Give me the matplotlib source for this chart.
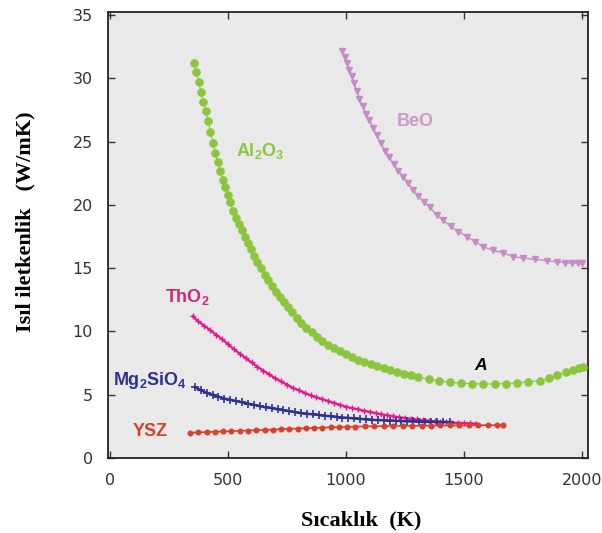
import matplotlib
matplotlib.use("Agg")
import matplotlib.pyplot as plt

plt.rcParams['mathtext.fontset'] = 'custom'
plt.rcParams['mathtext.rm'] = 'Liberation Sans:bold'
plt.rcParams['mathtext.bf'] = 'Liberation Sans:bold'
plt.rcParams['mathtext.it'] = 'Liberation Sans:bold'

# ---- data ----
al2o3_T = [356, 366, 376, 386, 396, 406, 416, 426, 436, 446, 456, 466, 477, 488, 499, 510,
           522, 534, 546, 558, 571, 584, 597, 611, 625, 640, 655, 670, 686, 702, 719, 736,
           754, 772, 791, 811, 832, 854, 877, 900, 924, 948, 973, 998, 1024, 1050, 1077,
           1104, 1132, 1160, 1188, 1217, 1246, 1275, 1305, 1350, 1395, 1440, 1487, 1535,
           1582, 1630, 1677, 1725, 1772, 1820, 1860, 1895, 1930, 1960, 1985, 2003]
al2o3_k = [31.2, 30.5, 29.7, 28.9, 28.1, 27.4, 26.6, 25.8, 24.9, 24.1, 23.4, 22.7, 22.0, 21.4,
           20.8, 20.2, 19.5, 19.0, 18.5, 18.0, 17.5, 17.0, 16.5, 16.0, 15.5, 15.0, 14.5, 14.1,
           13.6, 13.1, 12.7, 12.3, 11.9, 11.5, 11.1, 10.7, 10.3, 9.95, 9.6, 9.25, 8.95, 8.7,
           8.45, 8.2, 7.95, 7.75, 7.55, 7.4, 7.25, 7.1, 6.95, 6.8, 6.65, 6.55, 6.4, 6.25, 6.1,
           6.0, 5.92, 5.87, 5.85, 5.85, 5.88, 5.95, 6.02, 6.1, 6.3, 6.55, 6.8, 6.95, 7.1, 7.2]

beo_T = [984, 996, 1006, 1014, 1024, 1034, 1045, 1056, 1071, 1085, 1099, 1116, 1130, 1147,
         1165, 1183, 1203, 1222, 1243, 1264, 1285, 1306, 1332, 1356, 1384, 1412, 1443, 1476,
         1511, 1547, 1582, 1624, 1667, 1709, 1751, 1801, 1850, 1893, 1928, 1956, 1984, 1999]
beo_k = [32.2, 31.7, 31.2, 30.7, 30.2, 29.6, 29.0, 28.4, 27.8, 27.2, 26.7, 26.1, 25.5, 24.9,
         24.3, 23.8, 23.2, 22.7, 22.2, 21.7, 21.2, 20.7, 20.2, 19.8, 19.2, 18.8, 18.3, 17.9,
         17.5, 17.1, 16.7, 16.4, 16.2, 15.9, 15.8, 15.7, 15.6, 15.5, 15.45, 15.4, 15.4, 15.4]

tho2_T = [350, 375, 400, 425, 450, 475, 500, 525, 550, 575, 600, 625, 650, 675, 700, 725,
          750, 775, 800, 825, 850, 875, 900, 925, 950, 975, 1000, 1025, 1050, 1075, 1100,
          1125, 1150, 1175, 1200, 1225, 1250, 1275, 1300, 1325, 1350, 1375, 1400, 1425,
          1450, 1475, 1500, 1525, 1550]
tho2_k = [11.2, 10.8, 10.45, 10.1, 9.75, 9.4, 9.0, 8.6, 8.25, 7.9, 7.55, 7.2, 6.9, 6.6, 6.3,
          6.05, 5.8, 5.55, 5.35, 5.15, 4.95, 4.8, 4.65, 4.5, 4.35, 4.2, 4.05, 3.95, 3.85,
          3.75, 3.65, 3.55, 3.45, 3.38, 3.3, 3.23, 3.17, 3.1, 3.05, 3.0, 2.95, 2.9, 2.87,
          2.83, 2.8, 2.78, 2.76, 2.74, 2.72]

mg_T = [360, 385, 410, 435, 460, 485, 510, 535, 560, 585, 610, 635, 660, 685, 710, 735, 760,
        785, 810, 835, 860, 885, 910, 935, 960, 985, 1010, 1035, 1060, 1085, 1110, 1135,
        1160, 1185, 1210, 1235, 1260, 1285, 1310, 1335, 1360, 1385, 1410, 1440]
mg_k = [5.6, 5.35, 5.15, 5.0, 4.85, 4.7, 4.6, 4.5, 4.4, 4.3, 4.2, 4.1, 4.0, 3.95, 3.85, 3.78,
        3.7, 3.62, 3.55, 3.5, 3.45, 3.4, 3.35, 3.3, 3.25, 3.2, 3.17, 3.13, 3.1, 3.05, 3.02,
        3.0, 2.98, 2.96, 2.94, 2.92, 2.9, 2.89, 2.88, 2.87, 2.86, 2.85, 2.85, 2.84]

ysz_T = [340, 375, 410, 445, 480, 515, 550, 585, 620, 655, 690, 725, 760, 795, 830, 865, 900,
         935, 970, 1005, 1040, 1080, 1120, 1160, 1200, 1240, 1280, 1320, 1360, 1400, 1440,
         1480, 1520, 1560, 1600, 1640, 1665]
ysz_k = [2.0, 2.02, 2.05, 2.07, 2.1, 2.12, 2.15, 2.17, 2.2, 2.22, 2.25, 2.28, 2.3, 2.33, 2.35,
         2.37, 2.4, 2.42, 2.44, 2.46, 2.48, 2.5, 2.51, 2.52, 2.53, 2.54, 2.55, 2.55, 2.56,
         2.57, 2.57, 2.58, 2.58, 2.59, 2.59, 2.6, 2.6]

x_ticks = [0, 500, 1000, 1500, 2000]
y_ticks = [0, 5, 10, 15, 20, 25, 30, 35]
x_label = "Sıcaklık  (K)"
y_label = "Isıl iletkenlik   (W/mK)"

c_green = "#8cc63f"
c_beo = "#c68cc4"
c_tho2 = "#e2198c"
c_mg = "#2e3192"
c_ysz = "#d9402b"

fig = plt.figure(figsize=(6.02, 5.33), dpi=100)
ax = fig.add_axes([108/602, 1 - 458/533, 480/602, 446/533])
ax.set_facecolor("#e9e9e9")

ax.plot(al2o3_T, al2o3_k, color=c_green, lw=0.8, marker='o', ms=5.2, mec=c_green, mfc=c_green, zorder=3)
ax.plot(beo_T, beo_k, color=c_beo, lw=1.0, marker='v', ms=4.2, mec=c_beo, mfc=c_beo, zorder=3)
ax.plot(tho2_T, tho2_k, color=c_tho2, lw=1.6, marker='+', ms=4.5, mew=1.0, zorder=3)
ax.plot(mg_T, mg_k, color=c_mg, lw=1.8, marker='+', ms=5.5, mew=1.2, zorder=4)
ax.plot(ysz_T, ysz_k, color=c_ysz, lw=1.2, marker='o', ms=3.3, mec=c_ysz, mfc=c_ysz, zorder=5)

ax.set_xlim(-8, 2025)
ax.set_ylim(0.05, 35.25)
ax.set_xticks(x_ticks)
ax.set_yticks(y_ticks)
ax.tick_params(direction='in', length=5, width=1.0, top=True, right=True,
               labelsize=11.5, labelcolor="#333333", pad=11, color="#333333")
for sp in ax.spines.values():
    sp.set_linewidth(1.3)
    sp.set_color("#222222")

tf = dict(family="Liberation Sans", fontweight="bold", fontsize=13)
ax.text(536, 24.3, "Al$_2$O$_3$", color=c_green, ha='left', va='center', **tf)
ax.text(1292, 26.6, "BeO", color="#cc99c8", ha='center', va='center', **tf)
ax.text(233, 12.7, "ThO$_2$", color="#cc2a78", ha='left', va='center', **tf)
ax.text(12, 6.1, "Mg$_2$SiO$_4$", color=c_mg, ha='left', va='center', **tf)
ax.text(98, 2.1, "YSZ", color=c_ysz, ha='left', va='center', **tf)
ax.text(1570, 7.3, "A", color="black", ha='center', va='center', family="Liberation Sans",
        fontweight="bold", fontstyle="italic", fontsize=12.5)

fig.text(361/602, 1 - 520/533, x_label, ha='center', va='center', family="Liberation Serif",
         fontweight="bold", fontsize=16)
fig.text(25/602, 1 - 222/533, y_label, ha='center', va='center', rotation=90,
         family="Liberation Serif", fontweight="bold", fontsize=16)

fig.savefig("out.png", dpi=100)
